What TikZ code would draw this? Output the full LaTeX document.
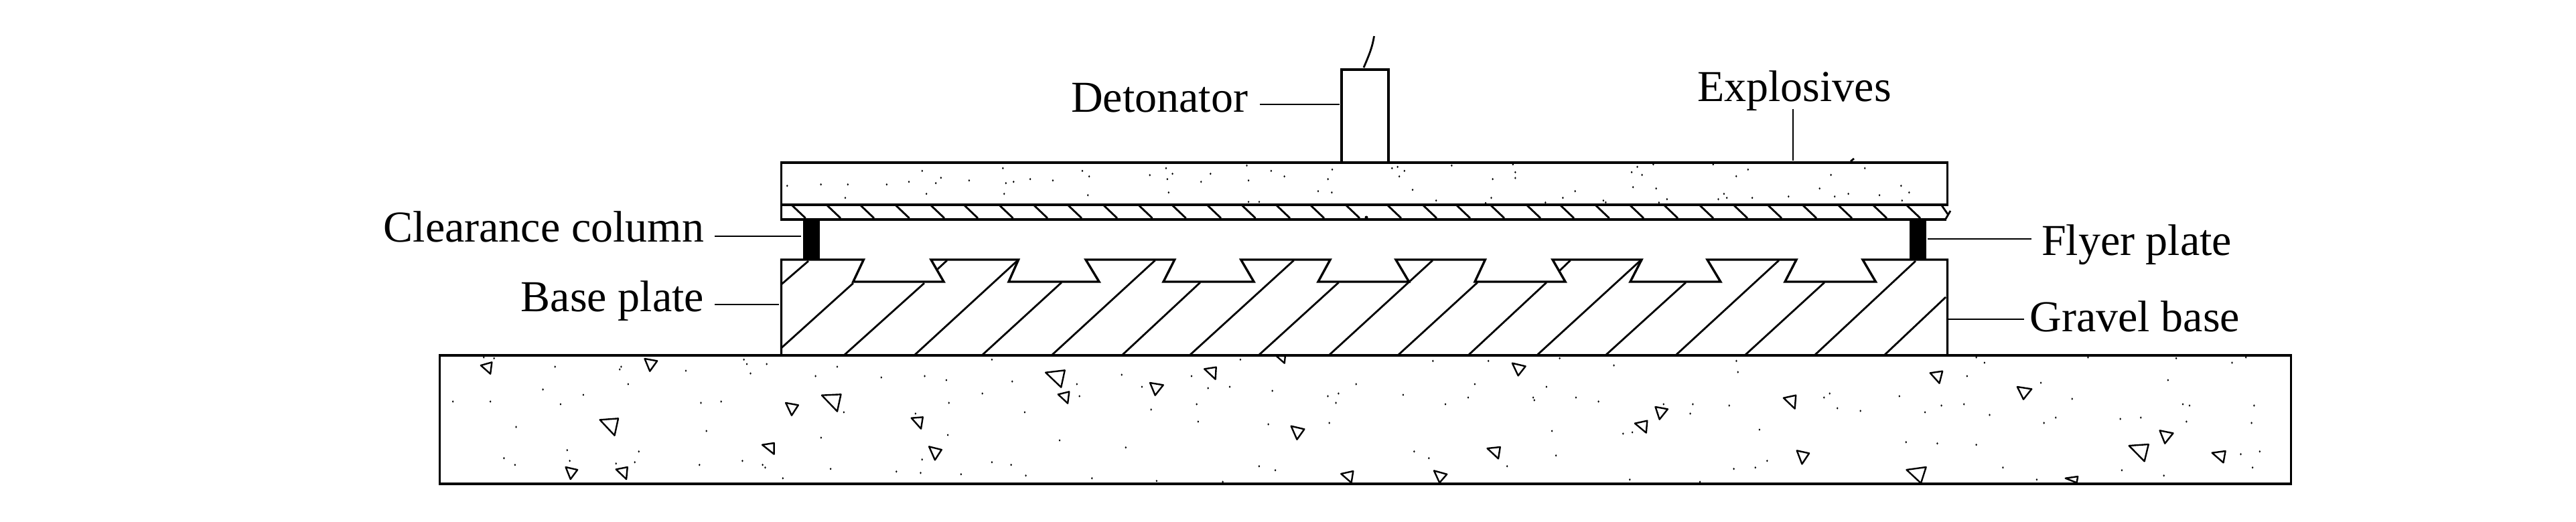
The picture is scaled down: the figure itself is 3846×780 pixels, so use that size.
\documentclass[tikz,border=0pt]{standalone}
\usepackage{fontspec}
\setmainfont{Liberation Serif}
\tikzset{
  x=0.25pt,y=-0.25pt,
  outline/.style={line width=0.85pt,line join=miter,line cap=rect},
  hatchline/.style={line width=0.7pt,line cap=butt},
  leader/.style={line width=0.55pt,black},
  tri/.style={line width=0.6pt,line join=round},
  lbl/.style={font=\fontsize{16.5}{20}\selectfont,inner xsep=4.5pt,inner ysep=0pt,outer sep=0pt},
  blackcol/.style={fill=black,draw=none,inner sep=0pt,outer sep=0pt,minimum width=6.25pt,minimum height=15pt},
}
\begin{document}
\begin{tikzpicture}
\useasboundingbox (0,0) rectangle (3846,780);
\fill[white] (0,0) rectangle (3846,780);

% concrete dots in the ground
\foreach \a/\b in {150/42,178/46,344/84,524/84,520/96,700/102,858/52,866/72,920/72,876/114,1112/84,1533/52,1053/126,1232/132,1350/126,1409/144,543/162,311/186,421/210,66/240,168/240,359/252,741/246,796/240,1507/204,1416/246,1130/288,1325/294,238/354,756/372,1068/402,1413/390,377/458,572/464,205/494,235/524,384/506,510/518,561/512,737/524,854/506,909/524,916/536,1343/500,1533/512,1094/542,1273/554,1339/560,1449/566,964/584}
  \fill ({640+\a/1.823},{520+\b/3}) ellipse [x radius=1.3,y radius=1.7];
\foreach \a/\b in {678/52,1202/58,1353/58,1547/46,355/120,545/126,57/150,233/162,993/162,1316/162,410/174,590/180,649/174,1511/174,765/192,240/216,916/216,945/204,1121/210,1298/222,1475/222,1478/234,559/252,938/246,1236/252,435/276,91/288,563/330,754/342,920/336,1526/372,186/414,366/446,1151/464,1191/494,1537/482,54/524,729/530,773/548,1404/530,94/572,274/584,450/596,630/600}
  \fill ({1480+\a/1.823},{520+\b/3}) ellipse [x radius=1.3,y radius=1.7];
\foreach \a/\b in {117/78,356/58,359/108,824/42,840/66,1042/42,1214/46,1350/42,1323/66,806/126,1198/144,950/156,43/222,87/240,214/252,271/252,342/258,266/294,538/204,527/222,674/216,553/270,598/282,756/258,800/252,724/288,850/300,1011/228,1227/252,1240/258,1366/258,979/312,956/336,1105/318,1145/312,1234/330,1361/336,135/384,153/378,401/366,687/422,748/428,824/434,1340/476,1377/464,416/506,393/536,351/542,876/536,1108/548,1363/536,1190/572,148/590,942/590,285/600}
  \fill ({2320+\a/1.3067},{520+\b/3}) ellipse [x radius=1.3,y radius=1.7];

% gravel triangles
\foreach \a/\b/\c/\d/\e/\f in {142/78/172/64/168/116,588/48/622/58/602/104,466/322/516/316/506/392,1070/212/1122/208/1112/284,972/246/1006/256/988/302,908/434/940/426/940/476,1314/314/1345/310/1340/362,1362/442/1396/456/1378/502,373/534/405/546/386/588,510/544/541/534/538/588}
  \draw[tri] ({640+\a/1.823},{520+\b/3}) -- ({640+\c/1.823},{520+\d/3}) -- ({640+\e/1.823},{520+\f/3}) -- cycle;
\foreach \a/\b/\c/\d/\e/\f in {148/110/200/100/190/176,182/208/212/196/208/248,432/156/468/166/446/212,580/94/612/86/610/140,776/36/800/36/798/68,816/350/852/364/832/410,1418/68/1454/82/1434/124,1350/450/1385/444/1380/496,952/564/985/552/980/604,1205/550/1240/566/1220/604}
  \draw[tri] ({1480+\a/1.823},{520+\b/3}) -- ({1480+\c/1.823},{520+\d/3}) -- ({1480+\e/1.823},{520+\f/3}) -- cycle;
\foreach \a/\b/\c/\d/\e/\f in {198/264/222/274/206/320,158/338/182/326/180/380,448/224/472/212/470/272,734/112/758/104/752/158,904/174/932/184/916/230,474/460/498/472/484/520,688/546/726/534/716/606,998/584/1022/576/1020/604,1122/438/1160/432/1152/508,1182/370/1208/382/1192/428,1284/470/1310/462/1306/514}
  \draw[tri] ({2320+\a/1.3067},{520+\b/3}) -- ({2320+\c/1.3067},{520+\d/3}) -- ({2320+\e/1.3067},{520+\f/3}) -- cycle;

% ground slab
\draw[outline] (656.5,531) rectangle (3420.5,723);

% explosives dots
\foreach \a/\b in {118/773,197/767,260/767,351/767,403/755,434/706,478/737,466/761,544/749,623/694,630/761,648/755,687/743,740/749,809/706,825/731,967/725,1005/694,1020/719,1008/743,1087/755,1109/719,1194/682,1251/706,1282/731,1198/749,1394/700,1384/743,1361/797,1393/803,1534/694,1547/688,1563/706,1551/731,254/827,444/809,626/809,822/815,1011/803,1198/845,1223/845}
  \fill ({1100+\a/1.568},{20+\b/3}) ellipse [x radius=1.3,y radius=1.7];
\foreach \a/\b in {238/622,368/617,373/652,373/678,325/683,155/731,205/779,322/767,310/790,437/788,474/767,500/737,560/779,565/787,632/628,620/652,642/664,666/617,623/719,672/725,695/773,678/788,793/617,867/640,842/670,816/749,822/767,804/773,876/767,953/761,1115/634,1043/664,1019/725,1080/749,1051/761,1146/755,1192/713,1209/743,1194/779}
  \fill ({2000+\a/1.4218},{40+\b/3}) ellipse [x radius=1.3,y radius=1.7];
\fill (2040,325) circle (2.5);
\draw[hatchline] (2763,241) -- (2768,237);

% flyer plate hatching
\foreach \t in {1182.7,1235,1285,1337.6,1390,1440,1492.5,1544,1595,1648,1700.5,1750.6,1803,1854.5,1906,1957,2010,2072,2125,2175,2226,2280,2330,2382.6,2434,2485,2538,2589,2640,2692,2745,2797,2847}
  \draw[hatchline] (\t,307) -- ({\t+20},326);

% explosives and flyer outlines
\node[draw,line width=0.85pt,inner sep=0pt,outer sep=0pt,minimum width=435.25pt,minimum height=15.75pt,anchor=north west] (boxExp) at (1166.5,243) {};
\draw[outline] (1166.5,306) -- (1166.5,328) -- (2904,328);
\draw[hatchline] (2899,307) -- (2908,320);
\draw[hatchline] (2912,315) -- (2905,327);

% detonator and its fuse
\node[draw,line width=0.85pt,inner sep=0pt,outer sep=0pt,minimum width=17.5pt,minimum height=34.75pt,anchor=north west] (boxDet) at (2003,104) {};
\draw[hatchline] (2036,101) .. controls (2045,80) and (2049,70) .. (2051.5,54);

% clearance columns
\node[blackcol,anchor=north west] (colL) at (1198.5,328) {};
\node[blackcol,anchor=north west] (colR) at (2850.5,328) {};

% base plate hatching
\foreach \x/\y/\u/\v in {1166.5/425/1207/390,1166.5/520/1274/423,1261/530/1380/423,1366/530/1520.6/388,1467/530/1585/422,1571/530/1724.6/389,1676/530/1792/422,1777/530/1931.7/389,1880/530/1998.7/422,1985/530/2139/389,2088/530/2206/422,2193/530/2309/422,2295.5/530/2449.5/389,2398/530/2517/422,2502.7/530/2656/389,2606/530/2724/422,2710/530/2860/390,2814/530/2905/444,1400/402/1414/389,2328/405/2344.6/389}
  \draw[hatchline] (\x,\y) -- (\u,\v);

% base plate profile
\draw[outline] (1166.5,531) -- (1166.5,388) -- (1289.4,388) -- (1273.8,421) -- (1409,421) -- (1390,388)
  -- (1520.6,388) -- (1506,421) -- (1641,421) -- (1621,388)
  -- (1753.7,388) -- (1737,421) -- (1872,421) -- (1852.7,388)
  -- (1986,388) -- (1968,421) -- (2103.6,421) -- (2084,388)
  -- (2217.4,388) -- (2202,421) -- (2337,421) -- (2318,388)
  -- (2451,388) -- (2434,421) -- (2568.8,421) -- (2549,388)
  -- (2682,388) -- (2665,421) -- (2800.4,421) -- (2781,388)
  -- (2907.5,388) -- (2907.5,531);
\coordinate (plateL) at (1162.5,455);
\coordinate (plateR) at (2909,477);

% labels
\node[lbl,anchor=base east] (lblDet) at (1881,168) {Detonator};
\node[lbl,anchor=base west] (lblExp) at (2516,151.7) {Explosives};
\node[lbl,anchor=base east,inner xsep=4pt] (lblClear) at (1067,361.7) {Clearance column};
\node[lbl,anchor=base east,inner xsep=4pt] (lblBase) at (1067,465.7) {Base plate};
\node[lbl,anchor=base west,inner xsep=3.85pt] (lblFly) at (3032.6,381.7) {Flyer plate};
\node[lbl,anchor=base west,inner xsep=2.25pt] (lblGrav) at (3021.7,495.7) {Gravel base};

% leaders
\coordinate (yDet) at (0,156);
\coordinate (yClear) at (0,353);
\coordinate (yFly) at (0,356.7);
\coordinate (expTop) at (2677.3,162.7);
\draw[leader] (lblDet.east |- yDet) -- ([xshift=-0.75pt]boxDet.west |- yDet);
\draw[leader] (lblClear.east |- yClear) -- ([xshift=-0.75pt]colL.west |- yClear);
\draw[leader] (lblBase.east |- plateL) -- (plateL);
\draw[leader] ([xshift=0.6pt]colR.east |- yFly) -- (lblFly.west |- yFly);
\draw[leader] (plateR) -- (lblGrav.west |- plateR);
\draw[leader,line width=0.5pt] (expTop) -- ([yshift=0.75pt]expTop |- boxExp.north);
\end{tikzpicture}
\end{document}
